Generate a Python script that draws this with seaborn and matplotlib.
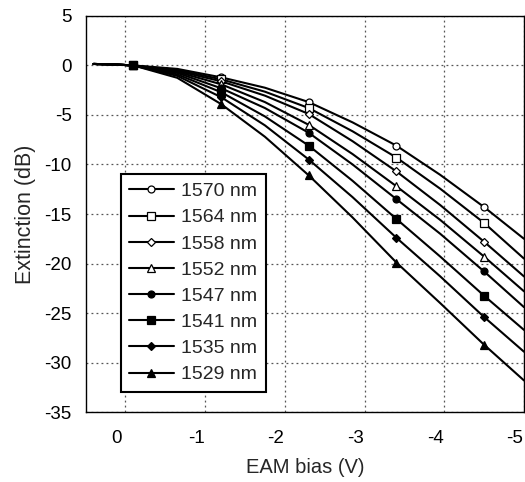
import matplotlib
matplotlib.use("Agg")
import matplotlib.pyplot as plt
import matplotlib.transforms as mtransforms
import seaborn as sns
import pandas as pd

bias_v = [0.4, 0.15, -0.1, -0.65, -1.2, -1.75, -2.3, -2.85, -3.4, -3.95, -4.5, -5.0]
# measured points (markers) sit at these indices of bias_v
marker_idx = [2, 4, 6, 8, 10]

wavelengths = ["1570 nm", "1564 nm", "1558 nm", "1552 nm",
               "1547 nm", "1541 nm", "1535 nm", "1529 nm"]

ext_1570 = [0.15, 0.1, 0.0, -0.35, -1.2, -2.25, -3.7, -5.75, -8.1, -11.05, -14.3, -17.5]
ext_1564 = [0.15, 0.1, 0.0, -0.45, -1.4, -2.65, -4.3, -6.65, -9.3, -12.45, -15.9, -19.5]
ext_1558 = [0.15, 0.1, 0.0, -0.55, -1.6, -3.05, -4.9, -7.65, -10.7, -14.1, -17.8, -21.3]
ext_1552 = [0.15, 0.1, 0.0, -0.65, -1.9, -3.7, -6.0, -8.95, -12.2, -15.6, -19.3, -22.8]
ext_1547 = [0.15, 0.1, 0.0, -0.75, -2.3, -4.3, -6.8, -10.0, -13.5, -17.0, -20.8, -24.4]
ext_1541 = [0.15, 0.1, 0.0, -0.9, -2.7, -5.15, -8.1, -11.65, -15.5, -19.3, -23.25, -26.7]
ext_1535 = [0.15, 0.1, 0.0, -1.05, -3.2, -6.05, -9.5, -13.3, -17.4, -21.3, -25.4, -28.9]
ext_1529 = [0.15, 0.1, 0.0, -1.25, -3.9, -7.2, -11.1, -15.35, -19.9, -24.0, -28.2, -31.8]

series = [ext_1570, ext_1564, ext_1558, ext_1552, ext_1547, ext_1541, ext_1535, ext_1529]

# marker style per wavelength: (marker, filled, size)
styles = [("o", False, 5), ("s", False, 5.5), ("D", False, 4), ("^", False, 5.5),
          ("o", True, 5), ("s", True, 6), ("D", True, 4), ("^", True, 5.5)]

sns.set_style("white")
plt.rcParams["font.family"] = ["Liberation Sans", "DejaVu Sans"]
plt.rcParams["axes.unicode_minus"] = False

fig = plt.figure(figsize=(5.25, 4.82), dpi=100)
ax = fig.add_axes([0.163, 0.145, 0.835, 0.822])

for name, vals, (mk, filled, ms) in zip(wavelengths, series, styles):
    df = pd.DataFrame({"bias": bias_v, "ext": vals})
    sns.lineplot(data=df, x="bias", y="ext", sort=False, estimator=None,
                 color="black", linewidth=1.5, marker=mk, markersize=ms,
                 markevery=marker_idx, markerfacecolor="black" if filled else "white",
                 markeredgecolor="black", markeredgewidth=0.9, label=name, ax=ax)

ax.set_xlim(0.5, -5)
ax.set_ylim(-35, 5)
ax.set_xticks([0, -1, -2, -3, -4, -5])
ax.set_yticks(range(-35, 6, 5))
ax.grid(True, linestyle=(0, (1.5, 2.5)), color="#555555", linewidth=0.9)
ax.set_axisbelow(True)
for s in ax.spines.values():
    s.set_color("black")
    s.set_linewidth(1.0)
ax.tick_params(length=0, labelsize=13.5, colors="black")
ax.tick_params(axis="y", pad=10)
ax.tick_params(axis="x", pad=13)

# x tick labels sit a little left of their grid lines in the original
shift = mtransforms.ScaledTranslation(-0.09, 0, fig.dpi_scale_trans)
for lab in ax.get_xticklabels():
    lab.set_transform(lab.get_transform() + shift)

ax.set_xlabel("EAM bias (V)", fontsize=14.5, labelpad=8)
ax.set_ylabel("Extinction (dB)", fontsize=15.5, labelpad=6)

leg = ax.legend(loc="lower left", bbox_to_anchor=(0.08, 0.052), borderaxespad=0,
                fontsize=14, frameon=True, fancybox=False, framealpha=1,
                handlelength=2.3, handletextpad=0.4, labelspacing=0.44,
                borderpad=0.42)
leg.get_frame().set_edgecolor("black")
leg.get_frame().set_linewidth(1.5)

fig.savefig("out.png", dpi=100)
